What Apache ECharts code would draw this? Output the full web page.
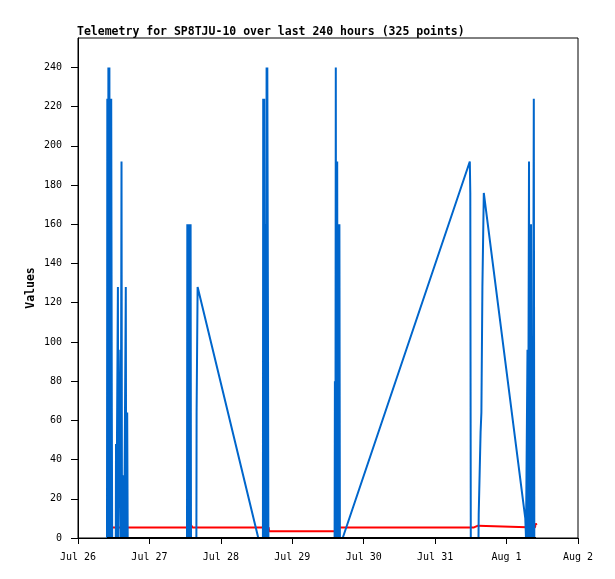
<!DOCTYPE html>
<html lang="en">
<head>
    <meta charset="UTF-8">
    <script src="https://cdn.jsdelivr.net/npm/echarts@6/dist/echarts.min.js"></script>
    <title>Telemetry</title>
    <style>
        html, body { margin: 0; padding: 0; background: #fff; }
        #chart { width: 615px; height: 579px; }
    </style>
</head>
<body>
<div id="chart"></div>
<script>
    // hours since Jul 26 00:00
    var blueTimes = [
        9.74, 9.85, 10.05, 10.21, 10.42, 10.55, 10.72, 10.85, 11.02, 11.16, 11.36, 11.49,
        12.70, 12.77, 12.90, 13.41, 13.54, 14.21, 14.35, 14.62, 14.78, 14.89, 15.19, 15.32, 15.52,
        16.06, 16.20, 16.53, 16.70,
        36.62, 36.73, 36.93, 37.09, 37.30, 37.50, 37.70, 37.83, 37.97,
        39.78, 39.85, 40.19, 60.58,
        62.13, 62.23, 62.43, 62.56, 62.70, 63.03, 63.17, 63.37, 63.50, 63.61, 63.81, 63.97,
        86.22, 86.32, 86.49, 86.62, 86.76, 87.09, 87.23, 87.49, 87.66, 87.83, 88.00, 88.94,
        131.65, 131.81, 131.98,
        134.57, 134.64, 134.94, 135.27, 135.54, 135.88, 136.35, 150.29,
        150.53, 151.03, 151.20, 151.54, 151.67, 151.87, 152.04, 152.21, 152.38, 152.65, 152.78,
        153.15, 153.32
    ];
    var blueValues = [
        0, 224, 0, 240, 0, 240, 0, 224, 0, 224, 64, 0,
        0, 48, 0, 128, 0, 96, 0, 192, 0, 32, 0, 32, 0,
        128, 0, 64, 0,
        0, 160, 0, 160, 0, 160, 0, 160, 0,
        0, 64, 128, 0,
        0, 224, 0, 224, 0, 160, 0, 240, 0, 240, 120, 0,
        0, 80, 0, 240, 0, 192, 0, 160, 0, 160, 0, 0,
        192, 176, 0,
        0, 12, 32, 54, 64, 128, 176, 10,
        0, 96, 0, 192, 0, 160, 0, 160, 0, 80, 0,
        224, 0
    ];

    var redTimes = [9.74, 37.63, 37.83, 38.17, 38.47, 64.04, 64.24, 86.86, 87.09,
        133.06, 133.39, 134.40, 134.74, 153.55, 153.82, 154.09];
    var redValues = [5.4, 5.4, 7.0, 6.2, 5.4, 5.4, 3.4, 3.4, 5.4,
        5.4, 6.3, 6.3, 5.4, 5.4, 7.4, 6.6];

    var blackTimes = [9.74, 153.9];
    var blackValues = [0, 0];

    var xTickLabels = ['Jul 26', 'Jul 27', 'Jul 28', 'Jul 29', 'Jul 30', 'Jul 31', 'Aug 1', 'Aug 2'];
    var yTicks = [0, 20, 40, 60, 80, 100, 120, 140, 160, 180, 200, 220, 240];

    function pairs(ts, vs) {
        var out = [];
        for (var i = 0; i < ts.length; i++) out.push([ts[i], vs[i]]);
        return out;
    }

    var font = '"DejaVu Sans Mono", "Liberation Mono", monospace';
    var chart = echarts.init(document.getElementById('chart'));

    var option = {
        animation: false,
        backgroundColor: '#ffffff',
        title: {
            text: 'Telemetry for SP8TJU-10 over last 240 hours (325 points)',
            left: 72,
            top: 21,
            textStyle: { fontFamily: font, fontSize: 11.5, fontWeight: 'bold', color: '#000' }
        },
        grid: {
            left: 78, right: 37, top: 38, bottom: 41,
            show: true, borderColor: '#000', borderWidth: 1
        },
        xAxis: {
            type: 'value',
            min: 0, max: 168, interval: 24,
            axisLine: { lineStyle: { color: '#000', width: 1 } },
            axisTick: { show: true, length: 6, inside: false, lineStyle: { color: '#000' } },
            splitLine: { show: false },
            axisLabel: {
                margin: 14,
                fontFamily: font, fontSize: 10, color: '#000',
                formatter: function (v) { return xTickLabels[Math.round(v / 24)]; }
            }
        },
        yAxis: {
            type: 'value',
            min: 0, max: 255,
            name: 'Values',
            nameLocation: 'middle',
            nameGap: 41,
            nameMoveOverlap: false,
            nameTextStyle: { fontFamily: font, fontSize: 11.5, fontWeight: 'bold', color: '#000' },
            axisLine: { show: true, lineStyle: { color: '#000', width: 1 } },
            axisTick: { show: true, length: 7, customValues: yTicks, lineStyle: { color: '#000' } },
            splitLine: { show: false },
            axisLabel: {
                margin: 16,
                customValues: yTicks,
                fontFamily: font, fontSize: 10, color: '#000'
            }
        },
        series: [
            {
                type: 'line', name: 'red', data: pairs(redTimes, redValues),
                symbol: 'none', lineStyle: { color: '#ff0000', width: 2 }, z: 1
            },
            {
                type: 'line', name: 'blue', data: pairs(blueTimes, blueValues),
                symbol: 'none', lineStyle: { color: '#0066cc', width: 2 }, z: 2
            },
            {
                type: 'line', name: 'black', data: pairs(blackTimes, blackValues),
                symbol: 'none', lineStyle: { color: '#000', width: 2 }, z: 3
            }
        ]
    };
    chart.setOption(option);
</script>
</body>
</html>
